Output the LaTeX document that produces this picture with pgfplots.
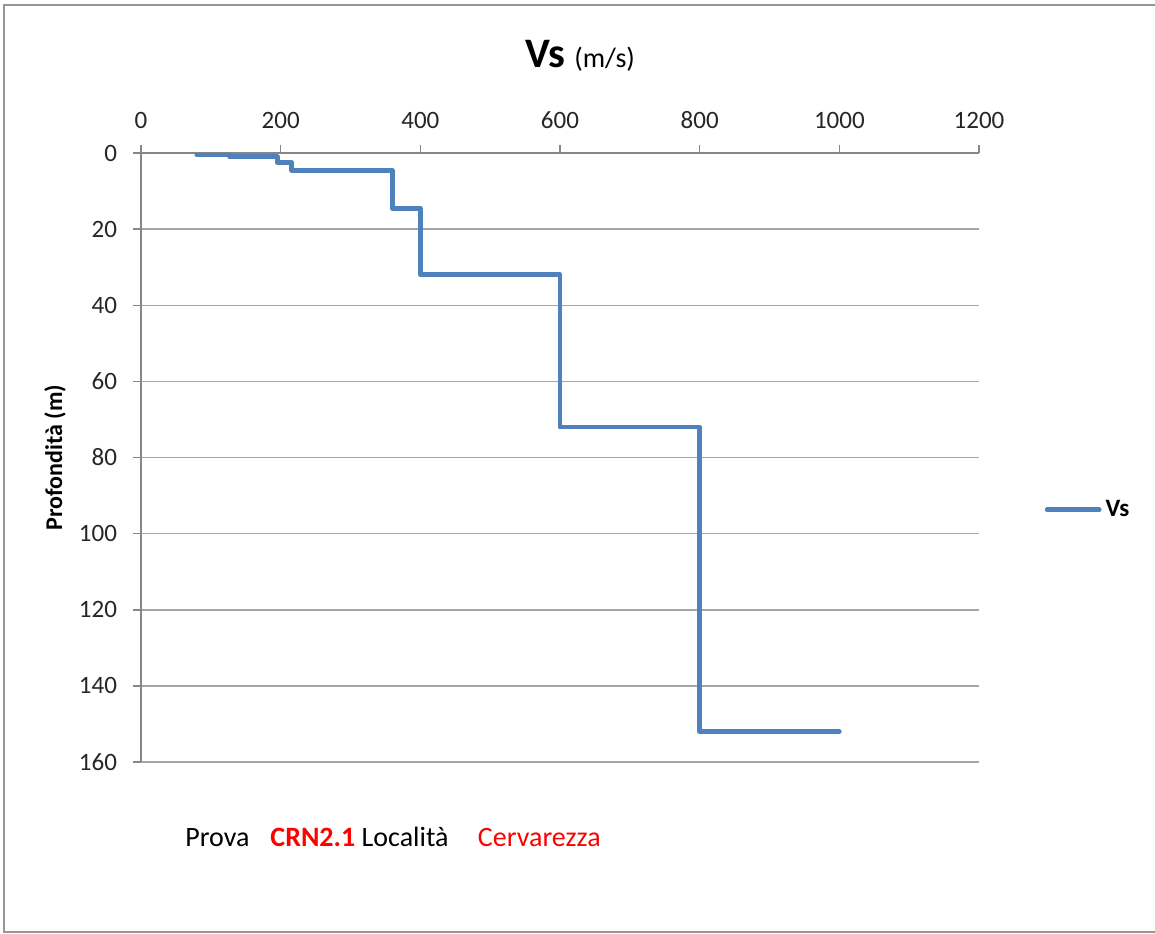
\documentclass[border=0pt]{standalone}
\usepackage{pgfplots}
\pgfplotsset{compat=1.18}
\usepackage{fontspec}
\setmainfont{Carlito}
\definecolor{vsblue}{RGB}{79,129,189}
\definecolor{axgray}{RGB}{134,134,134}
\definecolor{gridgray}{RGB}{165,165,165}
\definecolor{framegray}{RGB}{150,150,150}
\begin{document}
\begin{tikzpicture}[x=0.5pt,y=-0.5pt]
\useasboundingbox (0,0) rectangle (1155,933);
\draw[framegray, line width=1pt] (1160,4.5) -- (3.5,4.5) -- (3.5,931.5) -- (1160,931.5);
% title
\node[anchor=base, inner sep=0pt] at (580,67) {\fontsize{21}{24}\selectfont\bfseries Vs \fontsize{14}{16}\selectfont\mdseries (m/s)};
\begin{axis}[
  at={(70.5pt,-76.5pt)}, anchor=north west,
  scale only axis, width=419pt, height=304.5pt,
  xmin=0, xmax=1200, ymin=0, ymax=160, y dir=reverse,
  axis x line*=top, axis y line*=left,
  axis line style={axgray, line width=0.75pt},
  tick align=outside, major tick length=4pt,
  tick style={axgray, line width=0.75pt},
  xtick={0,200,...,1200}, ytick={0,20,...,160},
  ymajorgrids, grid style={gridgray, line width=0.75pt},
  ticklabel style={font=\fontsize{12.5}{15}\selectfont, color=black!85},
  xticklabel style={yshift=4.5pt},
  yticklabel style={xshift=-4.5pt},
  /pgf/number format/assume math mode=true,
  /pgf/number format/set thousands separator={},
  ylabel={\bfseries Profondità (m)},
  ylabel style={at={(axis description cs:-0.1026,0.5)}, anchor=center, font=\fontsize{12}{14}\selectfont},
  legend style={at={(axis description cs:1.078,0.414)}, anchor=west, draw=none, fill=none,
    font=\bfseries\fontsize{12.5}{15}\selectfont, inner sep=0pt},
  legend image code/.code={\draw[#1, line cap=round] (0pt,0pt) -- (26pt,0pt);},
]
\addplot[vsblue, line width=2.4pt, line cap=round, line join=round] coordinates {
  (80,0.5) (127,0.5) (127,1) (195,1) (195,2.5) (216,2.5) (216,4.6)
  (360,4.6) (360,14.5) (400,14.5) (400,32) (600,32) (600,72)
  (800,72) (800,152) (1000,152)
};
\addlegendentry{Vs}
\end{axis}
\node[anchor=base west, inner sep=0pt] at (185,846) {\fontsize{14}{16}\selectfont Prova\hspace{0.75em}{\bfseries\color{red}CRN2.1} Località\hspace{1.05em}{\color{red}Cervarezza}};
\end{tikzpicture}
\end{document}
